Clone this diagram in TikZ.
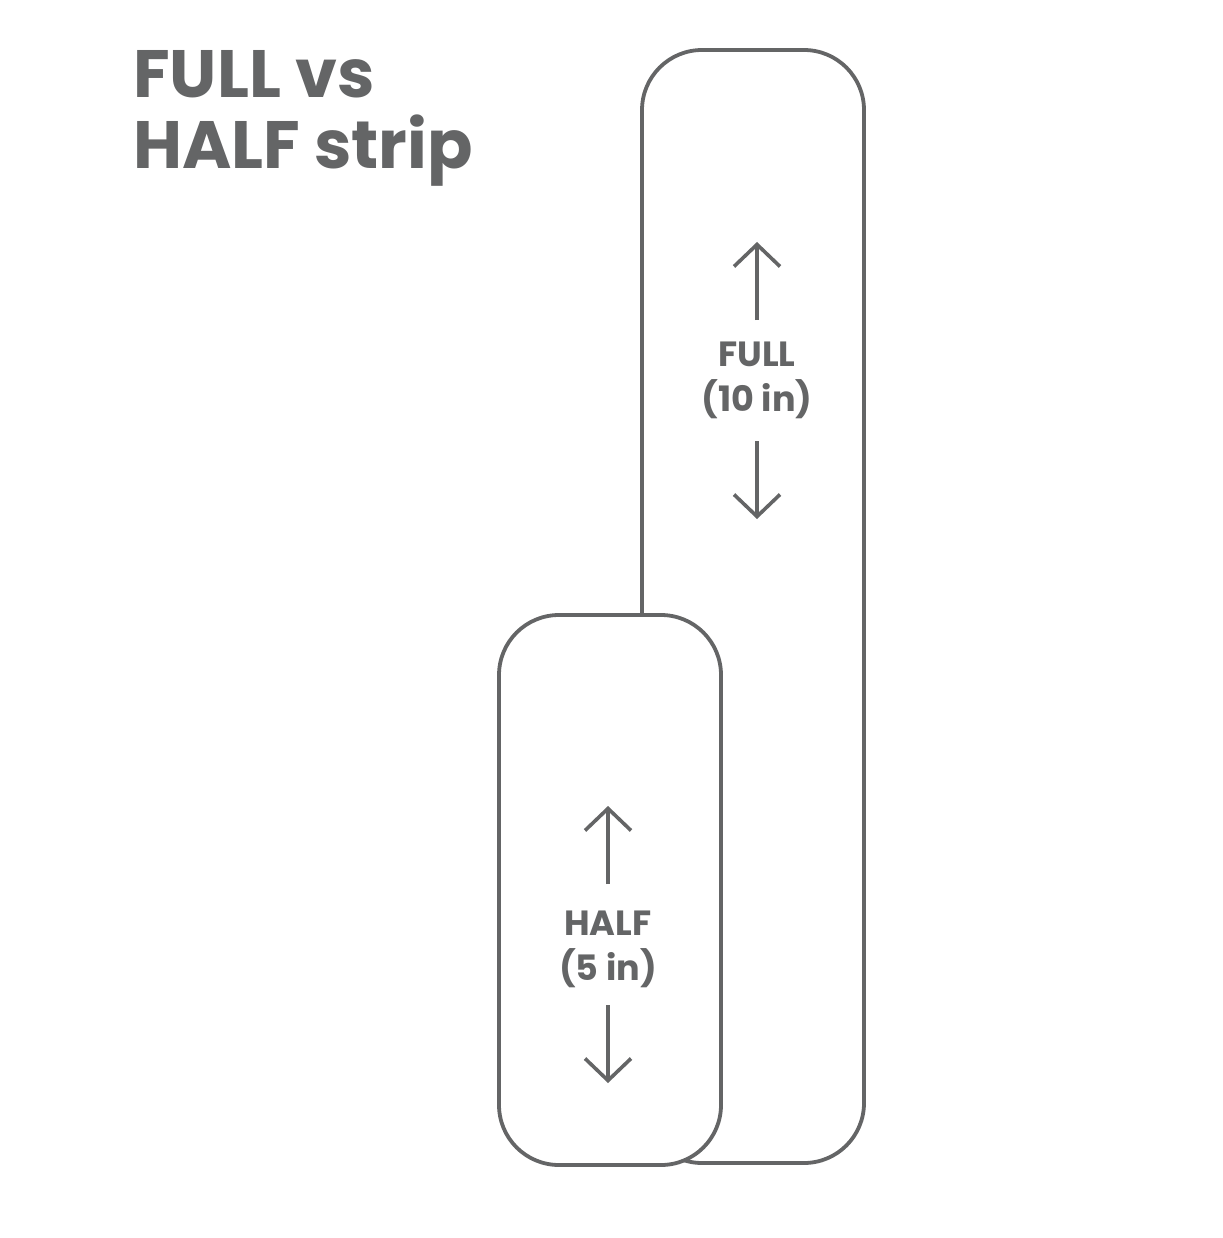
\documentclass[tikz,border=0pt]{standalone}
\usepackage{fontspec}
\setmainfont{Poppins}
\usetikzlibrary{arrows.meta}
\definecolor{ink}{HTML}{646566}
\begin{document}
\begin{tikzpicture}[x=1pt,y=-1pt,
  strip/.style={draw=ink,line width=3.8pt,fill=white,rounded corners=60pt},
  dimarrow/.style={draw=ink,line width=3.6pt,-{Straight Barb[length=22pt,width=46pt,line width=3.6pt]}},
  title/.style={text=ink,font=\fontsize{67}{71}\selectfont\bfseries,align=left,anchor=north west,inner sep=0pt},
  lbl/.style={text=ink,font=\fontsize{35}{45}\selectfont\bfseries,align=center,inner sep=0pt}]
\useasboundingbox[fill=white] (0,0) rectangle (1222,1238);
\node[title] (t) at (133,50) {FULL vs\\HALF strip};
\path[strip] (642,50) rectangle (864,1163);
\coordinate (fullc) at (757,380);
\node[lbl] (fl) at (fullc) {FULL\\(10 in)};
\coordinate (fu) at (757,242);
\coordinate (fd) at (757,519);
\draw[dimarrow] (757,320) -- (fu);
\draw[dimarrow] (757,441) -- (fd);
\path[strip] (499,615) rectangle (721,1165);
\node[lbl] (hl) at (608,949) {HALF\\(5 in)};
\coordinate (hu) at (608,806);
\coordinate (hd) at (608,1083);
\draw[dimarrow] (608,884) -- (hu);
\draw[dimarrow] (608,1005) -- (hd);
\end{tikzpicture}
\end{document}
